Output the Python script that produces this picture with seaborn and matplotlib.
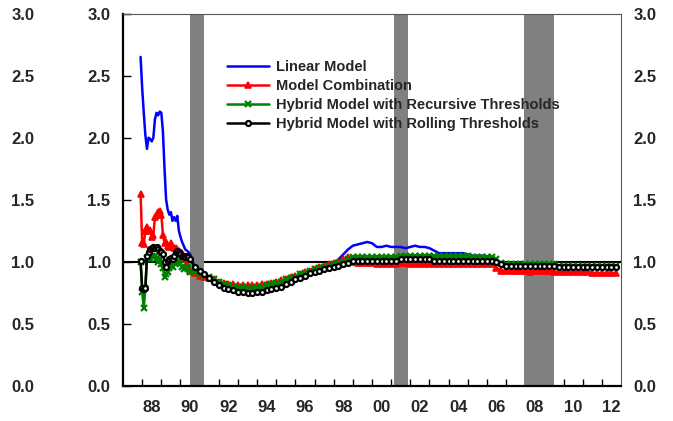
import numpy as np
import matplotlib
matplotlib.use("Agg")
import matplotlib.pyplot as plt
import seaborn as sns

# monthly points Dec-1987 .. Jul-1990, then quarterly 1990Q4 .. 2012Q4
early_years = [1987 + 11 / 12 + i / 12 for i in range(32)]
late_years = [1990.75 + i * 0.25 for i in range(89)]
years = np.array(early_years + late_years)

linear_early = [2.65, 2.40, 2.20, 2.02, 1.91, 2.00, 1.99, 1.97, 2.00, 2.15, 2.20, 2.18,
                2.21, 2.20, 2.05, 1.75, 1.50, 1.42, 1.38, 1.40, 1.33, 1.36, 1.33, 1.37,
                1.25, 1.20, 1.16, 1.13, 1.10, 1.09, 1.08, 1.06]
linear_late = [0.95,
               0.91, 0.89, 0.87, 0.85, 0.82, 0.80, 0.79, 0.79, 0.78, 0.78, 0.77, 0.77,
               0.78, 0.78, 0.79, 0.80, 0.81, 0.82, 0.84, 0.86, 0.87, 0.88, 0.90, 0.92,
               0.93, 0.94, 0.95, 0.97, 0.99, 1.02, 1.06, 1.10, 1.13, 1.14, 1.15, 1.16,
               1.15, 1.12, 1.12, 1.13, 1.12, 1.12, 1.12, 1.11, 1.12, 1.13, 1.12, 1.12,
               1.11, 1.09, 1.07, 1.07, 1.07, 1.07, 1.07, 1.07, 1.06, 1.05, 1.05, 1.05,
               1.04, 1.03, 1.01, 0.99, 0.98, 0.98, 0.98, 0.98, 0.98, 0.98, 0.98, 0.98,
               0.98, 0.98, 0.98, 0.97, 0.97, 0.97, 0.97, 0.97, 0.97, 0.97, 0.97, 0.97,
               0.97, 0.97, 0.97, 0.97]

combo_early = [1.55, 1.15, 1.14, 1.25, 1.28, 1.25, 1.26, 1.20, 1.22, 1.36, 1.38, 1.40,
               1.41, 1.38, 1.22, 1.15, 1.16, 1.13, 1.12, 1.15, 1.12, 1.11, 1.11, 1.10,
               1.09, 1.08, 1.07, 1.05, 1.02, 0.98, 0.95, 0.93]
combo_late = [0.91,
              0.89, 0.88, 0.87, 0.86, 0.84, 0.83, 0.82, 0.82, 0.81, 0.81, 0.81, 0.81,
              0.81, 0.82, 0.82, 0.83, 0.84, 0.85, 0.86, 0.88, 0.89, 0.90, 0.92, 0.93,
              0.94, 0.96, 0.97, 0.98, 0.99, 1.00, 1.02, 1.04, 1.00, 0.99, 0.99, 0.99,
              0.99, 0.98, 0.98, 0.98, 0.98, 0.98, 0.99, 0.99, 0.98, 0.98, 0.98, 0.98,
              0.98, 0.98, 0.98, 0.98, 0.98, 0.98, 0.98, 0.98, 0.98, 0.98, 0.98, 0.98,
              0.98, 0.98, 0.95, 0.93, 0.93, 0.93, 0.93, 0.93, 0.93, 0.92, 0.93, 0.93,
              0.93, 0.93, 0.92, 0.92, 0.92, 0.92, 0.92, 0.92, 0.92, 0.92, 0.91, 0.91,
              0.91, 0.91, 0.91, 0.91]

recursive_early = [1.00, 0.76, 0.63, 0.79, 1.03, 1.04, 1.02, 1.05, 1.04, 1.05, 1.03, 1.00,
                   1.02, 0.98, 0.95, 0.88, 0.90, 0.92, 0.95, 0.97, 0.96, 0.99, 1.00, 1.01,
                   1.00, 0.98, 0.96, 0.94, 0.95, 0.96, 0.94, 0.92]
recursive_late = [0.92,
                  0.90, 0.89, 0.88, 0.86, 0.84, 0.82, 0.81, 0.80, 0.80, 0.80, 0.79, 0.79,
                  0.80, 0.80, 0.81, 0.82, 0.83, 0.84, 0.86, 0.87, 0.88, 0.90, 0.91, 0.93,
                  0.94, 0.95, 0.96, 0.97, 0.98, 0.99, 1.00, 1.02, 1.04, 1.04, 1.04, 1.04,
                  1.04, 1.04, 1.04, 1.04, 1.04, 1.04, 1.05, 1.05, 1.05, 1.05, 1.05, 1.05,
                  1.05, 1.05, 1.05, 1.05, 1.05, 1.05, 1.05, 1.05, 1.05, 1.04, 1.04, 1.04,
                  1.04, 1.04, 1.02, 0.99, 0.98, 0.98, 0.98, 0.98, 0.98, 0.98, 0.98, 0.98,
                  0.98, 0.98, 0.98, 0.97, 0.97, 0.97, 0.97, 0.97, 0.97, 0.97, 0.97, 0.97,
                  0.97, 0.97, 0.97, 0.97]

rolling_early = [1.01, 0.79, 0.78, 0.79, 1.05, 1.08, 1.10, 1.11, 1.12, 1.11, 1.12, 1.10,
                 1.09, 1.08, 1.06, 1.00, 0.96, 1.01, 1.02, 1.03, 1.02, 1.05, 1.08, 1.09,
                 1.08, 1.06, 1.05, 1.05, 1.04, 1.05, 1.04, 1.02]
rolling_late = [0.96,
                0.93, 0.90, 0.87, 0.84, 0.81, 0.79, 0.78, 0.77, 0.76, 0.76, 0.75, 0.75,
                0.76, 0.76, 0.77, 0.78, 0.79, 0.80, 0.82, 0.84, 0.86, 0.87, 0.89, 0.91,
                0.92, 0.93, 0.94, 0.95, 0.96, 0.97, 0.98, 0.99, 1.01, 1.01, 1.01, 1.01,
                1.01, 1.01, 1.01, 1.01, 1.01, 1.01, 1.02, 1.02, 1.02, 1.02, 1.02, 1.02,
                1.02, 1.01, 1.01, 1.01, 1.01, 1.01, 1.01, 1.01, 1.01, 1.01, 1.01, 1.01,
                1.01, 1.01, 1.00, 0.98, 0.97, 0.97, 0.97, 0.97, 0.97, 0.97, 0.97, 0.97,
                0.97, 0.97, 0.97, 0.96, 0.96, 0.96, 0.96, 0.96, 0.96, 0.96, 0.96, 0.96,
                0.96, 0.96, 0.96, 0.96]

recessions = [(1990.5, 1991.25), (2001.17, 2001.9), (2007.92, 2009.5)]
year_labels = ['88', '90', '92', '94', '96', '98', '00', '02', '04', '06', '08', '10', '12']

sns.set_style("white")
plt.rcParams['font.family'] = ['Liberation Sans', 'DejaVu Sans']
plt.rcParams['font.weight'] = 'bold'

fig = plt.figure(figsize=(6.73, 4.21), dpi=100)
ax = fig.add_axes([0.1828, 0.0831, 0.7399, 0.8848])

ax.axhline(1.0, color='black', lw=1.5, zorder=0.5)
for start, end in recessions:
    ax.axvspan(start, end, color='#808080', lw=0, zorder=1)

series = [
    ('Linear Model', linear_early + linear_late, 'blue', None, 'blue', 4, 1.2),
    ('Model Combination', combo_early + combo_late, 'red', '^', 'red', 4.5, 1.2),
    ('Hybrid Model with Recursive Thresholds', recursive_early + recursive_late, 'green', 'x', 'green', 4.5, 1.6),
    ('Hybrid Model with Rolling Thresholds', rolling_early + rolling_late, 'black', 'o', 'white', 3.6, 1.6),
]
for i, (name, vals, col, mk, face, ms, mew) in enumerate(series):
    sns.lineplot(x=years, y=np.array(vals), ax=ax, color=col, lw=1.8,
                 marker=mk, markersize=ms, markerfacecolor=face,
                 markeredgecolor=col, markeredgewidth=mew,
                 label=name, zorder=3 + i)

ax.set_xlim(1987, 2013)
ax.set_ylim(0, 3)
ax.set_xlabel('')
ax.set_ylabel('')

ax.set_xticks(range(1988, 2013))
ax.set_xticklabels([])
ax.set_xticks([y + 0.5 for y in range(1988, 2013, 2)], minor=True)
ax.set_xticklabels(year_labels, minor=True)
ax.tick_params(axis='x', which='major', direction='in', length=5, width=1, color='black', bottom=True)
ax.tick_params(axis='x', which='minor', length=0, pad=10, labelsize=12)

yticks = np.arange(0, 3.01, 0.5)
ax.set_yticks(yticks)
ax.set_yticklabels([f'{v:.1f}' for v in yticks])
ax.tick_params(axis='y', direction='in', length=6, width=1, color='black', left=True, pad=9, labelsize=12)

for side in ['left', 'bottom']:
    ax.spines[side].set_color('black')
    ax.spines[side].set_linewidth(1.6)
for side in ['top', 'right']:
    ax.spines[side].set_color('#555555')
    ax.spines[side].set_linewidth(0.8)

# right hand axis
ax_r = ax.twinx()
ax_r.set_ylim(0, 3)
ax_r.set_yticks(yticks)
ax_r.set_yticklabels([f'{v:.1f}' for v in yticks])
ax_r.tick_params(axis='y', direction='in', length=0, pad=9, labelsize=12)
for s in ax_r.spines.values():
    s.set_visible(False)

# far left labels
ax_l = ax.twinx()
ax_l.set_ylim(0, 3)
ax_l.yaxis.tick_left()
ax_l.set_yticks(yticks)
ax_l.set_yticklabels([f'{v:.1f}' for v in yticks])
ax_l.tick_params(axis='y', length=0, pad=64, labelsize=12)
for s in ax_l.spines.values():
    s.set_visible(False)

ax.legend(loc='upper left', bbox_to_anchor=(0.209, 0.876), frameon=False,
          borderaxespad=0, borderpad=0, handlelength=2.9, handletextpad=0.43,
          labelspacing=0.35, prop={'size': 10.5, 'weight': 'bold'})

fig.savefig('out.png', dpi=100)
